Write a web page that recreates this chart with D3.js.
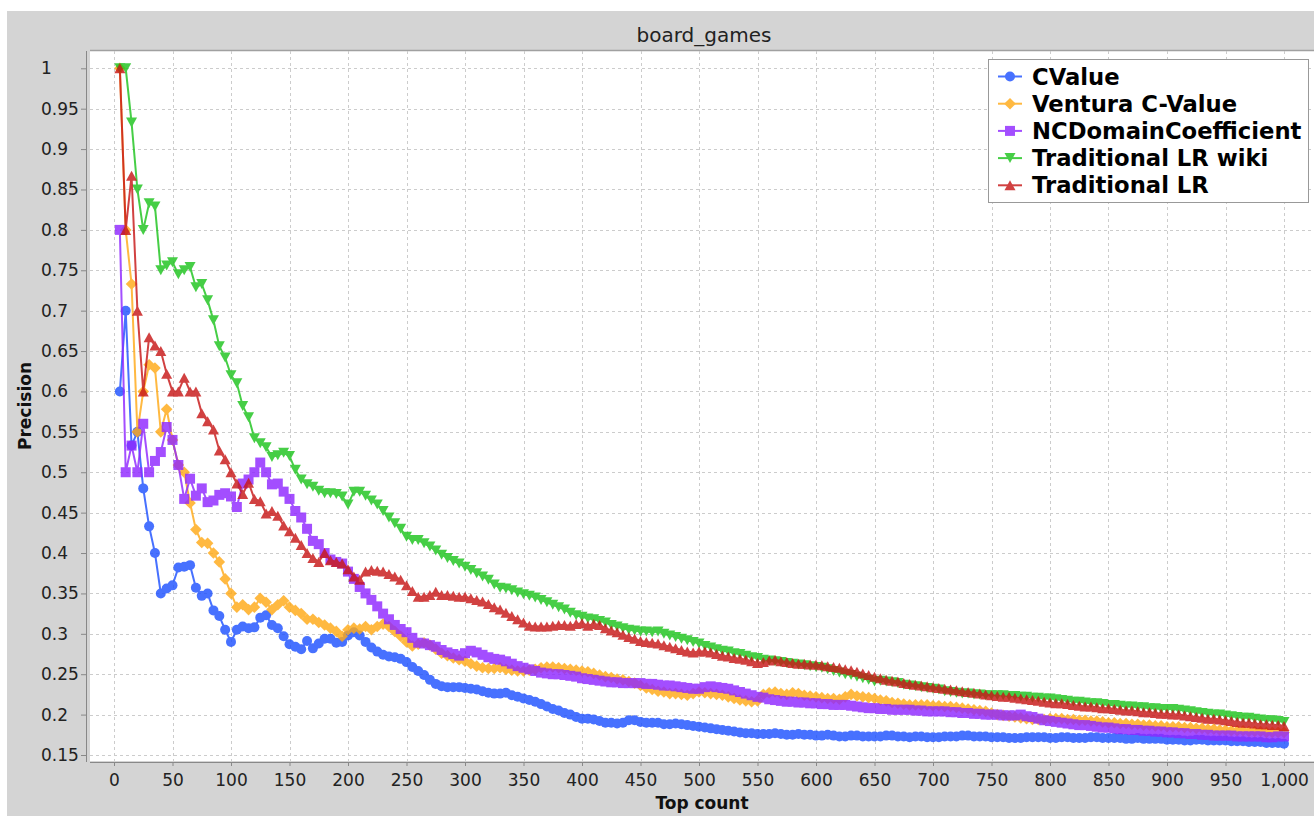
<!DOCTYPE html>
<html>
<head>
<meta charset="utf-8">
<script src="https://cdn.jsdelivr.net/npm/d3@7"></script>
<style>
  body { margin: 0; background: #fff; }
  svg { display: block; font-family: "DejaVu Sans", sans-serif; }
</style>
</head>
<body>
<svg id="chart" width="1314" height="816"></svg>
<script>
const chartTitle = 'board_games';
const xLabel = 'Top count';
const yLabel = 'Precision';
const seriesNames = ['CValue', 'Ventura C-Value', 'NCDomainCoefficient', 'Traditional LR wiki', 'Traditional LR'];
const xTicks = d3.range(0, 1001, 50);
const yTicks = [0.15, 0.2, 0.25, 0.3, 0.35, 0.4, 0.45, 0.5, 0.55, 0.6, 0.65, 0.7, 0.75, 0.8, 0.85, 0.9, 0.95, 1];
const topCounts = d3.range(5, 1001, 5);

const cValue = [
  0.6, 0.7, 0.533, 0.55, 0.48, 0.433, 0.4, 0.35, 0.356, 0.36,
  0.382, 0.383, 0.385, 0.357, 0.347, 0.35, 0.329, 0.322, 0.305, 0.29,
  0.305, 0.309, 0.307, 0.308, 0.32, 0.323, 0.311, 0.307, 0.297, 0.287,
  0.284, 0.281, 0.291, 0.282, 0.288, 0.294, 0.294, 0.289, 0.29, 0.298,
  0.302, 0.298, 0.29, 0.283, 0.278, 0.274, 0.272, 0.271, 0.269, 0.265,
  0.259, 0.254, 0.249, 0.243, 0.238, 0.235, 0.234, 0.234, 0.234, 0.233,
  0.232, 0.231, 0.229, 0.227, 0.226, 0.226, 0.227, 0.224, 0.222, 0.22,
  0.218, 0.216, 0.213, 0.21, 0.207, 0.205, 0.202, 0.2, 0.197, 0.195,
  0.195, 0.194, 0.192, 0.19, 0.19, 0.189, 0.19, 0.193, 0.193, 0.191,
  0.19, 0.19, 0.19, 0.188, 0.188, 0.189, 0.188, 0.187, 0.186, 0.185,
  0.184, 0.183, 0.182, 0.181, 0.18, 0.179, 0.178, 0.177, 0.177, 0.176,
  0.176, 0.176, 0.177, 0.176, 0.175, 0.175, 0.176, 0.175, 0.175, 0.174,
  0.174, 0.175, 0.174, 0.173, 0.173, 0.174, 0.174, 0.173, 0.173, 0.173,
  0.173, 0.174, 0.174, 0.173, 0.173, 0.172, 0.173, 0.173, 0.172, 0.172,
  0.172, 0.173, 0.173, 0.173, 0.174, 0.174, 0.173, 0.173, 0.173, 0.172,
  0.172, 0.172, 0.171, 0.171, 0.171, 0.172, 0.172, 0.172, 0.172, 0.171,
  0.171, 0.172, 0.172, 0.171, 0.171, 0.171, 0.172, 0.172, 0.171, 0.171,
  0.171, 0.171, 0.17, 0.17, 0.171, 0.17, 0.17, 0.17, 0.17, 0.169,
  0.169, 0.169, 0.168, 0.168, 0.169, 0.169, 0.168, 0.168, 0.168, 0.168,
  0.167, 0.167, 0.167, 0.166, 0.166, 0.166, 0.165, 0.165, 0.165, 0.164
];
const venturaCValue = [
  1.0, 0.8, 0.733, 0.55, 0.6, 0.633, 0.629, 0.55, 0.578, 0.54,
  0.509, 0.5, 0.462, 0.429, 0.413, 0.412, 0.4, 0.389, 0.368, 0.35,
  0.333, 0.336, 0.33, 0.333, 0.344, 0.339, 0.33, 0.336, 0.341, 0.333,
  0.329, 0.325, 0.318, 0.318, 0.314, 0.311, 0.307, 0.303, 0.297, 0.305,
  0.307, 0.306, 0.309, 0.305, 0.309, 0.312, 0.309, 0.303, 0.297, 0.29,
  0.285, 0.287, 0.289, 0.286, 0.281, 0.276, 0.273, 0.27, 0.268, 0.266,
  0.263, 0.26, 0.258, 0.257, 0.257, 0.258, 0.256, 0.255, 0.254, 0.254,
  0.255, 0.256, 0.258, 0.259, 0.259, 0.258, 0.257, 0.256, 0.255, 0.254,
  0.253, 0.251, 0.249, 0.247, 0.246, 0.244, 0.243, 0.241, 0.239, 0.236,
  0.233, 0.231, 0.229, 0.228, 0.226, 0.226, 0.225, 0.224, 0.226, 0.228,
  0.227, 0.226, 0.225, 0.224, 0.222, 0.22, 0.218, 0.217, 0.216, 0.217,
  0.225, 0.227, 0.228, 0.226, 0.225, 0.227, 0.226, 0.224, 0.223, 0.222,
  0.221, 0.22, 0.22, 0.219, 0.222, 0.225, 0.223, 0.222, 0.221, 0.22,
  0.218, 0.217, 0.215, 0.214, 0.213, 0.212, 0.212, 0.212, 0.212, 0.211,
  0.211, 0.21, 0.21, 0.209, 0.208, 0.207, 0.206, 0.205, 0.204, 0.202,
  0.2, 0.199, 0.198, 0.197, 0.196, 0.195, 0.194, 0.194, 0.194, 0.195,
  0.195, 0.195, 0.194, 0.194, 0.193, 0.193, 0.192, 0.192, 0.191, 0.19,
  0.19, 0.189, 0.189, 0.188, 0.188, 0.187, 0.187, 0.186, 0.186, 0.185,
  0.185, 0.185, 0.184, 0.184, 0.183, 0.183, 0.182, 0.182, 0.181, 0.181,
  0.18, 0.18, 0.18, 0.179, 0.179, 0.179, 0.178, 0.178, 0.178, 0.178
];
const ncDomain = [
  0.8, 0.5, 0.533, 0.5, 0.56, 0.5, 0.514, 0.525, 0.556, 0.54,
  0.509, 0.467, 0.492, 0.471, 0.48, 0.463, 0.465, 0.472, 0.474, 0.47,
  0.457, 0.486, 0.491, 0.5, 0.512, 0.5, 0.485, 0.486, 0.476, 0.467,
  0.452, 0.444, 0.43, 0.415, 0.411, 0.4, 0.392, 0.389, 0.387, 0.377,
  0.368, 0.358, 0.35, 0.342, 0.334, 0.325, 0.318, 0.311, 0.306, 0.302,
  0.295, 0.289, 0.288, 0.286, 0.284, 0.28, 0.277, 0.275, 0.273, 0.276,
  0.279, 0.277, 0.274, 0.271, 0.269, 0.268, 0.266, 0.263, 0.26, 0.258,
  0.256, 0.254, 0.252, 0.251, 0.25, 0.25, 0.249, 0.248, 0.247, 0.245,
  0.244, 0.243, 0.242, 0.241, 0.24, 0.24, 0.239, 0.239, 0.239, 0.239,
  0.238, 0.238, 0.237, 0.236, 0.236, 0.235, 0.234, 0.233, 0.232, 0.232,
  0.234, 0.235, 0.234, 0.233, 0.232, 0.23, 0.228, 0.226, 0.224, 0.222,
  0.221, 0.219, 0.218, 0.217, 0.216, 0.216, 0.215, 0.215, 0.214, 0.214,
  0.213, 0.213, 0.212, 0.212, 0.212, 0.211, 0.21, 0.209, 0.208, 0.208,
  0.207, 0.207, 0.206, 0.206, 0.206, 0.206, 0.205, 0.205, 0.204, 0.204,
  0.204, 0.204, 0.203, 0.203, 0.202, 0.202, 0.201, 0.201, 0.2, 0.2,
  0.2, 0.199, 0.199, 0.199, 0.2, 0.198, 0.197, 0.195, 0.193, 0.192,
  0.191, 0.19, 0.189, 0.188, 0.187, 0.187, 0.186, 0.185, 0.184, 0.184,
  0.183, 0.182, 0.182, 0.181, 0.181, 0.18, 0.18, 0.179, 0.179, 0.178,
  0.178, 0.177, 0.177, 0.176, 0.176, 0.175, 0.175, 0.174, 0.174, 0.174,
  0.174, 0.173, 0.173, 0.173, 0.173, 0.173, 0.172, 0.172, 0.173, 0.173
];
const lrWiki = [
  1.0, 1.0, 0.933, 0.85, 0.8, 0.833, 0.829, 0.75, 0.756, 0.76,
  0.745, 0.75, 0.754, 0.729, 0.733, 0.713, 0.688, 0.656, 0.642, 0.62,
  0.61, 0.582, 0.568, 0.542, 0.536, 0.531, 0.519, 0.521, 0.524, 0.52,
  0.503, 0.491, 0.485, 0.482, 0.477, 0.474, 0.474, 0.473, 0.47, 0.46,
  0.476, 0.476, 0.471, 0.465, 0.46, 0.452, 0.444, 0.437, 0.43, 0.42,
  0.416, 0.416, 0.412, 0.408, 0.403, 0.398, 0.394, 0.39, 0.387, 0.383,
  0.379, 0.375, 0.371, 0.367, 0.361, 0.357, 0.356, 0.354, 0.351, 0.349,
  0.347, 0.345, 0.342, 0.339, 0.336, 0.333, 0.33, 0.326, 0.323, 0.321,
  0.319, 0.318, 0.316, 0.314, 0.311, 0.309, 0.307, 0.305, 0.304, 0.303,
  0.303, 0.302, 0.303, 0.3, 0.298, 0.296, 0.294, 0.292, 0.29, 0.288,
  0.285, 0.283, 0.281, 0.279, 0.278, 0.276, 0.275, 0.273, 0.271, 0.27,
  0.268, 0.267, 0.266, 0.265, 0.264, 0.263, 0.262, 0.261, 0.26, 0.259,
  0.258, 0.256, 0.254, 0.252, 0.25, 0.249, 0.247, 0.245, 0.243, 0.241,
  0.242, 0.241, 0.24, 0.239, 0.237, 0.236, 0.235, 0.234, 0.233, 0.232,
  0.231, 0.229, 0.228, 0.227, 0.226, 0.226, 0.225, 0.225, 0.224, 0.224,
  0.224, 0.224, 0.223, 0.223, 0.222, 0.222, 0.221, 0.221, 0.22, 0.22,
  0.219, 0.218, 0.217, 0.216, 0.216, 0.215, 0.214, 0.214, 0.213, 0.212,
  0.212, 0.211, 0.21, 0.21, 0.209, 0.209, 0.208, 0.208, 0.207, 0.207,
  0.207, 0.206, 0.205, 0.204, 0.203, 0.202, 0.201, 0.2, 0.2, 0.199,
  0.198, 0.197, 0.196, 0.196, 0.195, 0.194, 0.193, 0.193, 0.192, 0.191
];
const lrTraditional = [
  1.0, 0.8, 0.867, 0.7, 0.6, 0.667, 0.657, 0.65, 0.622, 0.6,
  0.6, 0.617, 0.6, 0.6, 0.573, 0.563, 0.553, 0.527, 0.516, 0.5,
  0.486, 0.473, 0.487, 0.467, 0.464, 0.449, 0.452, 0.446, 0.434, 0.427,
  0.419, 0.41, 0.4, 0.394, 0.389, 0.4, 0.391, 0.389, 0.387, 0.38,
  0.371, 0.367, 0.377, 0.379, 0.378, 0.377, 0.374, 0.371, 0.367, 0.36,
  0.353, 0.346, 0.346, 0.348, 0.352, 0.348, 0.348, 0.347, 0.346, 0.346,
  0.344, 0.342, 0.34, 0.337, 0.333, 0.33, 0.326, 0.322, 0.318, 0.314,
  0.31, 0.309, 0.309, 0.309, 0.31, 0.311, 0.311, 0.31, 0.312, 0.313,
  0.31, 0.312, 0.311, 0.307, 0.304, 0.302, 0.299, 0.296, 0.294, 0.291,
  0.29, 0.289, 0.288, 0.286, 0.284, 0.282, 0.28, 0.278, 0.277, 0.278,
  0.278, 0.277, 0.275, 0.273, 0.272, 0.27, 0.269, 0.268, 0.266, 0.264,
  0.265, 0.267, 0.268, 0.266, 0.265, 0.264, 0.263, 0.263, 0.262, 0.262,
  0.261, 0.26, 0.259, 0.258, 0.256, 0.255, 0.253, 0.251, 0.249, 0.247,
  0.245, 0.243, 0.242, 0.241, 0.239, 0.238, 0.237, 0.236, 0.235, 0.234,
  0.233, 0.232, 0.231, 0.23, 0.229, 0.228, 0.227, 0.226, 0.225, 0.224,
  0.223, 0.222, 0.222, 0.221, 0.22, 0.219, 0.218, 0.217, 0.216, 0.215,
  0.214, 0.214, 0.213, 0.212, 0.211, 0.21, 0.21, 0.209, 0.208, 0.208,
  0.207, 0.206, 0.205, 0.205, 0.204, 0.203, 0.203, 0.202, 0.201, 0.201,
  0.2, 0.2, 0.199, 0.198, 0.197, 0.196, 0.195, 0.195, 0.194, 0.193,
  0.192, 0.191, 0.19, 0.19, 0.189, 0.188, 0.188, 0.187, 0.187, 0.186
];

const w = 1314;
const h = 816;
const plot = { left: 90, top: 51, right: 1320, bottom: 761 };

// marker shapes around 0,0
const shapes = {
  circle: { draw(ctx) { ctx.moveTo(5, 0); ctx.arc(0, 0, 5, 0, 2 * Math.PI); } },
  diamond: { draw(ctx) { ctx.moveTo(0, -5.8); ctx.lineTo(5.8, 0); ctx.lineTo(0, 5.8); ctx.lineTo(-5.8, 0); ctx.closePath(); } },
  square: { draw(ctx) { ctx.rect(-5, -5, 10, 10); } },
  down: { draw(ctx) { ctx.moveTo(-5.5, -5); ctx.lineTo(5.5, -5); ctx.lineTo(0, 5); ctx.closePath(); } },
  up: { draw(ctx) { ctx.moveTo(0, -5); ctx.lineTo(5.5, 5); ctx.lineTo(-5.5, 5); ctx.closePath(); } }
};

const series = [
  { name: seriesNames[0], values: cValue, color: '#1f52ff', shape: shapes.circle },
  { name: seriesNames[1], values: venturaCValue, color: '#ffaa18', shape: shapes.diamond },
  { name: seriesNames[2], values: ncDomain, color: '#8f28ff', shape: shapes.square },
  { name: seriesNames[3], values: lrWiki, color: '#1ec41e', shape: shapes.down },
  { name: seriesNames[4], values: lrTraditional, color: '#c81818', shape: shapes.up }
];

const xScale = d3.scaleLinear().domain([0, 1000]).range([114, 1284]);
const yScale = d3.scaleLinear().domain([0.15, 1]).range([755, 68.3]);

const svg = d3.select('#chart');

// background panel
svg.append('rect').attr('x', 7).attr('y', 11).attr('width', w - 7).attr('height', h - 11).attr('fill', '#d4d4d4');

svg.append('text')
  .attr('x', 704).attr('y', 42)
  .attr('text-anchor', 'middle')
  .attr('font-size', 20)
  .attr('fill', '#222')
  .text(chartTitle);

// plot area
svg.append('rect')
  .attr('x', plot.left).attr('y', plot.top)
  .attr('width', plot.right - plot.left).attr('height', plot.bottom - plot.top)
  .attr('fill', '#fff');
svg.append('line')
  .attr('x1', plot.left).attr('x2', w).attr('y1', plot.top - 0.5).attr('y2', plot.top - 0.5)
  .attr('stroke', '#a0a0a0').attr('stroke-width', 1.5);

svg.append('defs').append('clipPath').attr('id', 'clip')
  .append('rect')
  .attr('x', plot.left).attr('y', plot.top)
  .attr('width', plot.right - plot.left).attr('height', plot.bottom - plot.top);

// grid
const grid = svg.append('g').attr('stroke', '#cccccc').attr('stroke-dasharray', '3,3').attr('stroke-width', 1);
grid.selectAll('line.v').data(xTicks).enter().append('line')
  .attr('x1', d => Math.round(xScale(d)) + 0.5).attr('x2', d => Math.round(xScale(d)) + 0.5)
  .attr('y1', plot.top).attr('y2', plot.bottom);
grid.selectAll('line.h').data(yTicks).enter().append('line')
  .attr('x1', plot.left).attr('x2', plot.right)
  .attr('y1', d => Math.round(yScale(d)) + 0.5).attr('y2', d => Math.round(yScale(d)) + 0.5);

// axes
const yAxis = d3.axisLeft(yScale).tickValues(yTicks).tickSize(5).tickPadding(0).tickFormat(d3.format(''));
const yG = svg.append('g').attr('transform', 'translate(86,0)').call(yAxis);
yG.select('.domain').attr('d', `M0.5,${plot.top}V${plot.bottom + 1}`).attr('stroke', '#888');
yG.selectAll('.tick line').attr('stroke', '#888');
yG.selectAll('.tick text')
  .attr('x', -45).attr('text-anchor', 'start')
  .attr('font-size', 17).attr('font-family', '"DejaVu Sans", sans-serif').attr('fill', '#222');

const xAxis = d3.axisBottom(xScale).tickValues(xTicks).tickSize(4).tickPadding(8).tickFormat(d3.format(','));
const xG = svg.append('g').attr('transform', `translate(0,${plot.bottom + 1})`).call(xAxis);
xG.select('.domain').attr('d', `M${plot.left},0.5H${w}`).attr('stroke', '#888');
xG.selectAll('.tick line').attr('stroke', '#888');
xG.selectAll('.tick text')
  .attr('font-size', 17).attr('font-family', '"DejaVu Sans", sans-serif').attr('fill', '#222');

svg.append('text')
  .attr('x', 702).attr('y', 809)
  .attr('text-anchor', 'middle')
  .attr('font-size', 17).attr('font-weight', 'bold').attr('fill', '#111')
  .text(xLabel);
svg.append('text')
  .attr('transform', 'translate(31,406) rotate(-90)')
  .attr('text-anchor', 'middle')
  .attr('font-size', 17).attr('font-weight', 'bold').attr('fill', '#111')
  .text(yLabel);

// series
const lineGen = d3.line().x(d => xScale(d.k)).y(d => yScale(d.v));
const layer = svg.append('g').attr('clip-path', 'url(#clip)');
series.forEach(s => {
  const pts = topCounts.map((k, i) => ({ k: k, v: s.values[i] }));
  const g = layer.append('g').attr('opacity', 0.82);
  g.append('path')
    .datum(pts)
    .attr('d', lineGen)
    .attr('fill', 'none')
    .attr('stroke', s.color)
    .attr('stroke-width', 2);
  g.selectAll('path.mark')
    .data(pts)
    .enter()
    .append('path')
    .attr('class', 'mark')
    .attr('d', d3.symbol().type(s.shape))
    .attr('transform', d => `translate(${xScale(d.k)},${yScale(d.v)})`)
    .attr('fill', s.color);
});

// legend
const legend = svg.append('g').attr('transform', 'translate(988,59)');
legend.append('rect')
  .attr('x', 0.5).attr('y', 0.5).attr('width', 320).attr('height', 143)
  .attr('fill', '#fff').attr('stroke', '#999');
series.forEach((s, i) => {
  const row = legend.append('g').attr('transform', `translate(0,${17.5 + i * 27.2})`);
  const item = row.append('g').attr('opacity', 0.82);
  item.append('line').attr('x1', 10).attr('x2', 34).attr('y1', 0).attr('y2', 0)
    .attr('stroke', s.color).attr('stroke-width', 2);
  item.append('path').attr('d', d3.symbol().type(s.shape)).attr('transform', 'translate(22,0)').attr('fill', s.color);
  row.append('text')
    .attr('x', 44).attr('y', 0).attr('dy', '0.36em')
    .attr('font-size', 22.7).attr('font-weight', 'bold').attr('fill', '#000')
    .text(s.name);
});
</script>
</body>
</html>
